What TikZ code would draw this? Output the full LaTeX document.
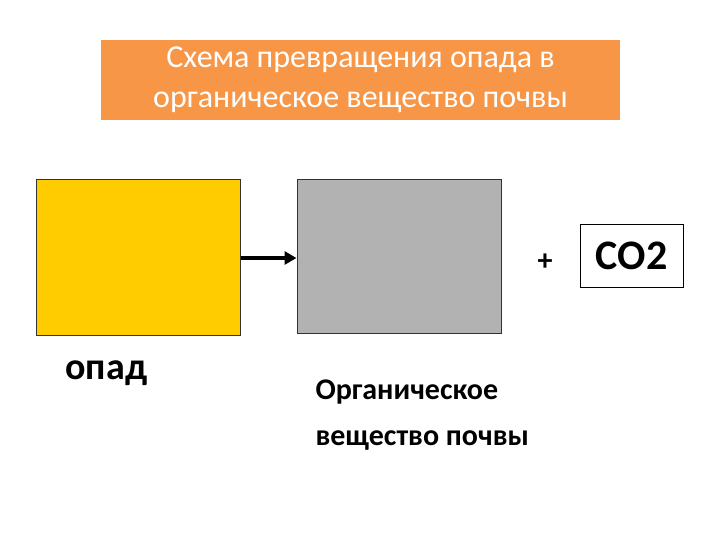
\documentclass[tikz,border=0pt]{standalone}
\usepackage{fontspec}
\setmainfont{Carlito}
\usetikzlibrary{arrows.meta}
\definecolor{orng}{HTML}{F79646}
\definecolor{yel}{HTML}{FFCC00}
\definecolor{gry}{HTML}{B2B2B2}
\tikzset{px/.style={x=1pt,y=-1pt},
 box/.style={draw=black!80,line width=1pt,inner sep=0pt}}
\begin{document}
\begin{tikzpicture}[px]
\useasboundingbox (0,0) rectangle (720,540);
\node[fill=orng,minimum width=519pt,minimum height=80pt,text=white,font=\fontsize{32}{40}\selectfont,align=center] (title) at (360.5,80) {Схема превращения опада в\\органическое вещество почвы};
\node[box,fill=yel,minimum width=204pt,minimum height=155pt] (opad) at (138,257.5) {};
\node[box,fill=gry,minimum width=204pt,minimum height=153pt] (org) at (399,256.5) {};
\draw[line width=3.5pt,-{Triangle[length=12pt,width=13pt]}] (opad.east |- 0,258) -- (org.west |- 0,258);
\node[font=\fontsize{30}{34}\selectfont\bfseries] (plus) at (545,262) {+};
\node[draw=black,line width=1pt,minimum width=103pt,minimum height=62pt,font=\fontsize{42}{46}\selectfont\bfseries] (co2) at (631.5,256) {CO2};
\node[font=\fontsize{38}{40}\selectfont\bfseries,anchor=west] (lopad) at (62,373) {опад};
\node[font=\fontsize{30}{46}\selectfont\bfseries,align=left,anchor=north west] (lorg) at (312,376) {Органическое\\вещество почвы};
\end{tikzpicture}
\end{document}
